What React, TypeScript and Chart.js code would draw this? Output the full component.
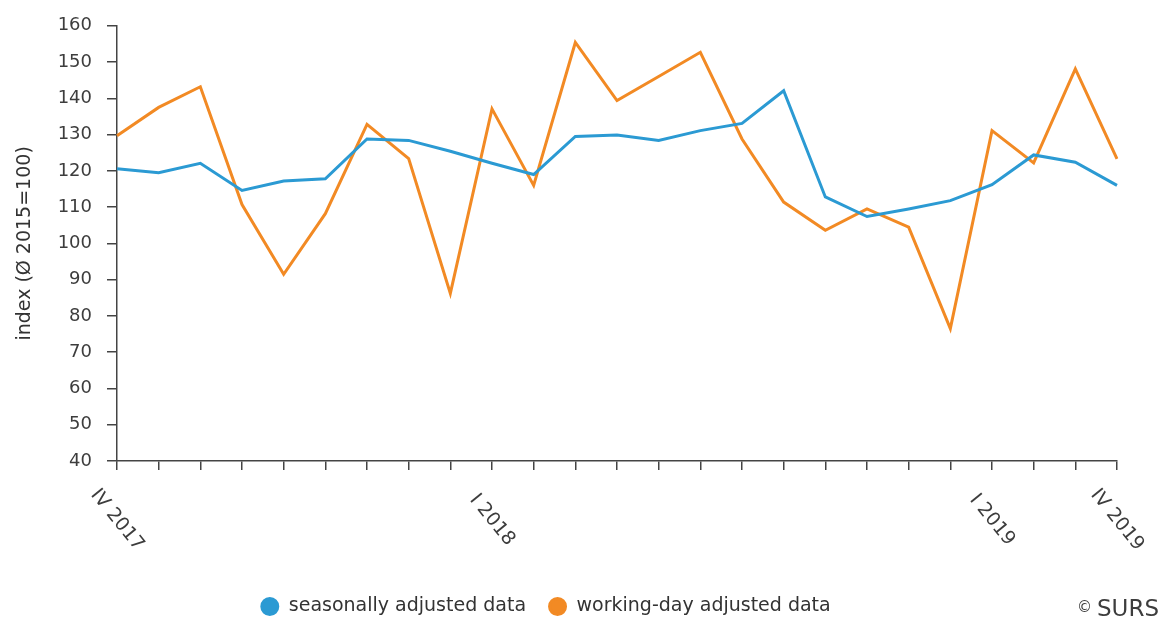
import React, { useEffect, useRef } from "react";
import { Chart, registerables } from "chart.js";

Chart.register(...registerables);

const FONT = "'DejaVu Sans', 'Liberation Sans', sans-serif";

const categories = [
  "IV 2017", "V 2017", "VI 2017", "VII 2017", "VIII 2017", "IX 2017", "X 2017", "XI 2017", "XII 2017",
  "I 2018", "II 2018", "III 2018", "IV 2018", "V 2018", "VI 2018", "VII 2018", "VIII 2018", "IX 2018",
  "X 2018", "XI 2018", "XII 2018",
  "I 2019", "II 2019", "III 2019", "IV 2019",
];

const shownLabels = ["IV 2017", "I 2018", "I 2019", "IV 2019"];

const seasonallyAdjusted = [
  120.6, 119.5, 122.1, 114.6, 117.2, 117.8, 128.8, 128.4, 125.4,
  122.1, 119.0, 129.5, 129.9, 128.4, 131.1, 133.1, 142.1, 112.8,
  107.4, 109.5, 111.8,
  116.2, 124.4, 122.4, 116.0,
];

const workingDayAdjusted = [
  129.7, 137.5, 143.2, 110.7, 91.5, 108.2, 132.8, 123.4, 86.2,
  137.1, 116.0, 155.4, 139.4, 146.0, 152.7, 128.8, 111.4, 103.6,
  109.5, 104.5, 76.5,
  131.1, 122.2, 148.1, 123.3,
];

const seriesNames = ["seasonally adjusted data", "working-day adjusted data"];
const yTitle = "index (Ø 2015=100)";
const credit = "SURS";

const BLUE = "#2b9ad3";
const ORANGE = "#f28a24";
const AXIS = "#444444";
const TEXT = "#3d3d3d";

export default function App() {
  const ref = useRef<HTMLCanvasElement | null>(null);

  useEffect(() => {
    document.body.style.margin = "0";
    const canvas = ref.current;
    if (!canvas) return;

    const xLabelPlugin = {
      id: "customXLabels",
      afterDraw(chart: any) {
        const ctx = chart.ctx as CanvasRenderingContext2D;
        const xs = chart.scales.x;
        ctx.save();
        ctx.fillStyle = TEXT;
        ctx.font = `19px ${FONT}`;
        categories.forEach((c, i) => {
          if (!shownLabels.includes(c)) return;
          const x = xs.getPixelForValue(i);
          ctx.save();
          ctx.translate(x, xs.top + 59);
          ctx.rotate((51 * Math.PI) / 180);
          ctx.textAlign = "center";
          ctx.textBaseline = "middle";
          ctx.fillText(c, 0, 0);
          ctx.restore();
        });
        // credit
        ctx.textAlign = "right";
        ctx.textBaseline = "alphabetic";
        ctx.font = `23px ${FONT}`;
        ctx.fillStyle = "#3d3d3d";
        ctx.fillText(credit, 1159, 616);
        const w = ctx.measureText(credit).width;
        ctx.font = `15px ${FONT}`;
        ctx.fillText("©", 1159 - w - 5, 612);
        ctx.restore();
      },
    };

    const chart = new Chart(canvas, {
      type: "line",
      data: {
        labels: categories,
        datasets: [
          {
            label: seriesNames[0],
            data: seasonallyAdjusted,
            borderColor: BLUE,
            backgroundColor: BLUE,
            borderWidth: 3,
            pointRadius: 0,
            tension: 0,
          },
          {
            label: seriesNames[1],
            data: workingDayAdjusted,
            borderColor: ORANGE,
            backgroundColor: ORANGE,
            borderWidth: 3,
            pointRadius: 0,
            tension: 0,
          },
        ],
      },
      options: {
        responsive: false,
        animation: false,
        layout: { padding: { left: -26, right: 47, top: 25, bottom: -5 } },
        plugins: {
          legend: {
            position: "bottom",
            labels: {
              usePointStyle: true,
              pointStyle: "circle",
              boxWidth: 19,
              boxHeight: 11.3,
              padding: 22,
              color: "#333",
              font: { family: FONT, size: 19 },
            },
          },
          tooltip: { enabled: false },
        },
        scales: {
          x: {
            grid: {
              display: true,
              drawOnChartArea: false,
              drawTicks: true,
              tickLength: 9,
              color: AXIS,
              lineWidth: 1.5,
            },
            border: { display: true, color: AXIS, width: 1.5 },
            ticks: { display: false },
            afterFit(s: any) {
              s.height = 114;
            },
          },
          y: {
            min: 40,
            max: 160,
            ticks: {
              stepSize: 10,
              padding: 15,
              color: TEXT,
              font: { family: FONT, size: 18 },
            },
            grid: {
              drawOnChartArea: false,
              drawTicks: true,
              tickLength: 10,
              color: AXIS,
              lineWidth: 1.5,
            },
            border: { display: true, color: AXIS, width: 1.5 },
            title: {
              display: true,
              text: yTitle,
              color: "#333",
              font: { family: FONT, size: 19 },
              padding: { top: 39.6, bottom: 0 },
            },
            afterFit(s: any) {
              s.width = 143;
            },
          },
        },
      },
      plugins: [xLabelPlugin],
    } as any);

    return () => chart.destroy();
  }, []);

  return (
    <div style={{ width: 1164, height: 621, background: "#fff" }}>
      <canvas ref={ref} width={1164} height={621} style={{ display: "block" }} />
    </div>
  );
}
